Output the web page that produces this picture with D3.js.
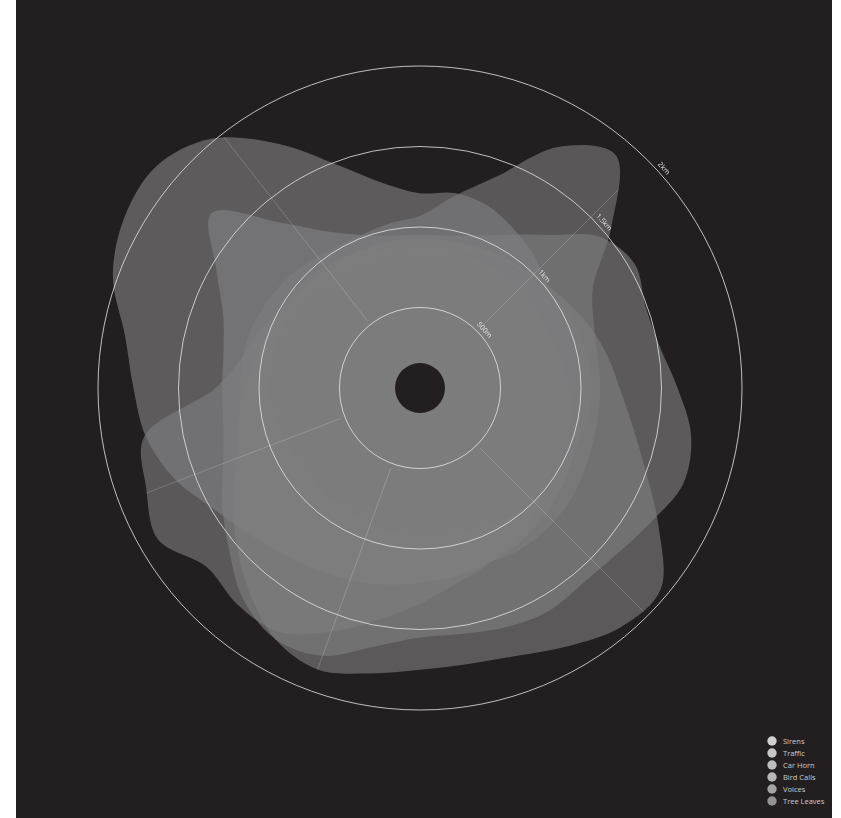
<!DOCTYPE html>
<html>
<head>
<meta charset="utf-8">
<script src="https://cdn.jsdelivr.net/npm/d3@7"></script>
<style>
  body { margin: 0; background: #fff; }
  text { font-family: "Open Sans", sans-serif; }
</style>
</head>
<body>
<div id="chart"></div>
<script>
// directions every 10 degrees, clockwise from north
let angles = d3.range(0, 360, 10);

let categories = ["Sirens", "Traffic", "Car Horn", "Bird Calls", "Voices", "Tree Leaves"];

// hearing distance (m) per direction
let sirens     = [1210, 1230, 1210, 1150, 1090, 1020, 990, 980, 980, 990, 1010, 1030, 1060, 1090, 1120, 1150, 1170, 1190,
                  1210, 1240, 1270, 1300, 1340, 1400, 1490, 1630, 1730, 1780, 1860, 2030, 2120, 2140, 2020, 1750, 1470, 1290];
let traffic    = [950, 960, 1010, 1100, 1240, 1460, 1540, 1490, 1510, 1600, 1710, 1740, 1660, 1600, 1580, 1600, 1580, 1550,
                  1550, 1630, 1770, 1800, 1710, 1550, 1420, 1300, 1240, 1230, 1240, 1300, 1460, 1690, 1340, 1120, 1010, 960];
let carHorn    = [930, 930, 940, 960, 980, 1010, 1060, 1120, 1180, 1240, 1340, 1490, 1710, 1950, 1940, 1850, 1770, 1740,
                  1750, 1800, 1860, 1800, 1650, 1490, 1340, 1210, 1140, 1090, 1040, 1010, 990, 980, 960, 940, 930, 930];
let birdCalls  = [870, 870, 870, 870, 870, 870, 870, 880, 900, 930, 950, 980, 990, 1020, 1070, 1120, 1180, 1240,
                  1340, 1460, 1610, 1750, 1760, 1730, 1880, 1810, 1740, 1270, 1120, 1060, 990, 960, 930, 900, 880, 870];
let voices     = [1070, 1210, 1400, 1730, 1890, 1550, 1240, 1150, 1120, 1120, 1120, 1130, 1150, 1170, 1180, 1180, 1160, 1140,
                  1120, 1120, 1130, 1150, 1170, 1180, 1180, 1160, 1140, 1120, 1120, 1110, 1090, 1070, 1040, 1020, 1020, 1040];
let treeLeaves = [840, 860, 890, 930, 960, 990, 1020, 1040, 1060, 1070, 1060, 1040, 1020, 1010, 980, 960, 940, 930,
                  920, 910, 890, 880, 880, 870, 880, 900, 920, 930, 930, 930, 920, 910, 890, 880, 860, 840];

let seriesValues = [sirens, traffic, carHorn, birdCalls, voices, treeLeaves];

let fillColors   = ["#848486", "#828284", "#808082", "#7f7f81", "#7d7d7f", "#7b7b7d"];
let legendColors = ["#d2d2d2", "#c8c8c8", "#bfbfbf", "#b8b8b8", "#a6a6a6", "#959595"];

let ringValues = [500, 1000, 1500, 2000];
let ringLabels = ["500m", "1km", "1.5km", "2km"];
let spokeAngles = [45, 135, 200, 249, 322];

let width = 841, height = 818;
let cx = 420, cy = 388;

let svg = d3.select("#chart")
    .append("svg")
    .attr("width", width)
    .attr("height", height);

svg.append("rect")
    .attr("x", 16).attr("y", 0)
    .attr("width", 816).attr("height", height)
    .attr("fill", "#231f20");

let g = svg.append("g")
    .attr("transform", "translate(" + cx + "," + cy + ")");

let r = d3.scaleLinear().domain([0, 2000]).range([0, 322]);
let a = d3.scaleLinear().domain([0, 360]).range([0, 2 * Math.PI]);

let line = d3.lineRadial()
    .angle(function (d, i) { return a(angles[i]); })
    .radius(function (d) { return r(d); })
    .curve(d3.curveCatmullRomClosed.alpha(0.5));

// clip for the spokes: union of all shapes
let clip = svg.append("defs").append("clipPath").attr("id", "shapes");
clip.selectAll("path")
    .data(seriesValues)
    .enter()
    .append("path")
    .attr("d", line);

g.selectAll(".shape")
    .data(seriesValues)
    .enter()
    .append("path")
    .attr("class", "shape")
    .attr("d", line)
    .attr("fill", function (d, i) { return fillColors[i]; })
    .attr("fill-opacity", 0.6);

g.append("g")
    .attr("clip-path", "url(#shapes)")
    .selectAll("line")
    .data(spokeAngles)
    .enter()
    .append("line")
    .attr("x1", function (d) { return Math.sin(a(d)) * r(530); })
    .attr("y1", function (d) { return -Math.cos(a(d)) * r(530); })
    .attr("x2", function (d) { return Math.sin(a(d)) * r(2000); })
    .attr("y2", function (d) { return -Math.cos(a(d)) * r(2000); })
    .attr("stroke", "#e8e8e8")
    .attr("stroke-opacity", 0.22)
    .attr("stroke-width", 1);

g.selectAll(".ring")
    .data(ringValues)
    .enter()
    .append("circle")
    .attr("class", "ring")
    .attr("r", function (d) { return r(d); })
    .attr("fill", "none")
    .attr("stroke", "#e6e6e6")
    .attr("stroke-opacity", 0.8)
    .attr("stroke-width", 1);

let labelAngle = 48;
g.append("g")
    .attr("opacity", 0.99)
    .selectAll("text")
    .data(ringValues)
    .enter()
    .append("text")
    .attr("transform", function (d) {
        let rr = r(d) + 4;
        let x = Math.sin(a(labelAngle)) * rr, y = -Math.cos(a(labelAngle)) * rr;
        return "translate(" + x + "," + y + ") rotate(" + labelAngle + ")";
    })
    .attr("text-anchor", "middle")
    .attr("font-size", "7px")
    .attr("fill", "#e8e8e8")
    .text(function (d, i) { return ringLabels[i]; });

g.append("circle")
    .attr("r", 25)
    .attr("fill", "#231f20");

let legend = svg.append("g").attr("opacity", 0.99);
legend.selectAll("circle")
    .data(categories)
    .enter()
    .append("circle")
    .attr("cx", 772)
    .attr("cy", function (d, i) { return 741 + i * 12; })
    .attr("r", 4.7)
    .attr("fill", function (d, i) { return legendColors[i]; });

legend.selectAll("text")
    .data(categories)
    .enter()
    .append("text")
    .attr("x", 783)
    .attr("y", function (d, i) { return 741 + i * 12 + 2.6; })
    .attr("font-size", "7.5px")
    .attr("fill", "#cfcfcf")
    .text(function (d) { return d; });
</script>
</body>
</html>
